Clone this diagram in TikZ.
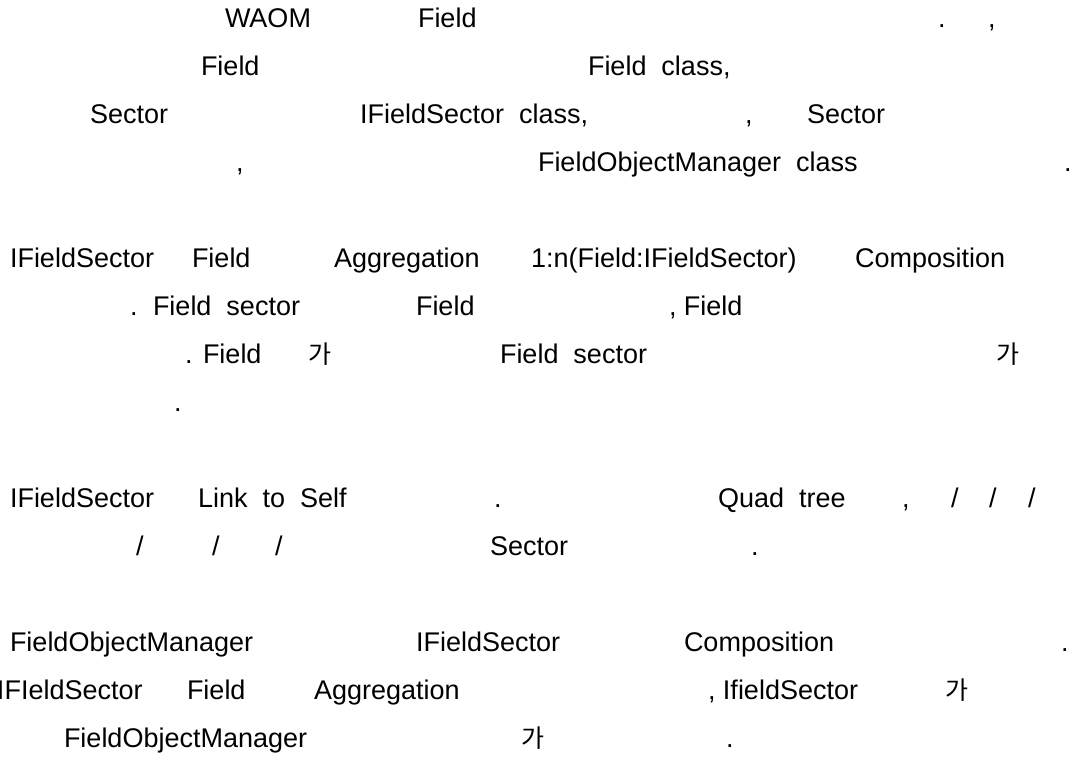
\documentclass[tikz,border=0pt]{standalone}
\usepackage{fontspec}
\setmainfont{Liberation Sans}
\newfontfamily\krfont{Noto Sans CJK KR}
\begin{document}
\begin{tikzpicture}[x=1pt,y=1pt,
  txt/.style={anchor=base west, inner sep=0pt, outer sep=0pt,
    font=\fontsize{27}{32}\selectfont, text=black},
  kr/.style={txt, font=\fontsize{25}{32}\selectfont\krfont}]
% page frame
\fill[white] (0,0) rectangle (1072,-757);
\useasboundingbox (0,0) rectangle (1072,-757);
% paragraph 1
\node[txt] (a1) at (225,-27.3) {WAOM};
\node[txt] (a2) at (418,-27.3) {Field};
\node[txt] (a3) at (938,-27.3) {.};
\node[txt] (a4) at (988,-27.3) {,};
\node[txt] (a5) at (201,-75.3) {Field};
\node[txt] (a6) at (588,-75.3) {Field\ \ class,};
\node[txt] (a7) at (90,-123.3) {Sector};
\node[txt] (a8) at (360,-123.3) {IFieldSector\ \ class,};
\node[txt] (a9) at (745,-123.3) {,};
\node[txt] (a10) at (807,-123.3) {Sector};
\node[txt] (a11) at (236,-171.3) {,};
\node[txt] (a12) at (538,-171.3) {FieldObjectManager\ \ class};
\node[txt] (a13) at (1064,-171.3) {.};
% paragraph 2
\node[txt] (b1) at (10,-267.3) {IFieldSector};
\node[txt] (b2) at (192,-267.3) {Field};
\node[txt] (b3) at (334,-267.3) {Aggregation};
\node[txt] (b4) at (531,-267.3) {1:n(Field:IFieldSector)};
\node[txt] (b5) at (855,-267.3) {Composition};
\node[txt] (b6) at (130,-315.3) {.};
\node[txt] (b7) at (153,-315.3) {Field\ \ sector};
\node[txt] (b8) at (416,-315.3) {Field};
\node[txt] (b9) at (669,-315.3) {,\ Field};
\node[txt] (b10) at (185,-363.3) {.};
\node[txt] (b11) at (203,-363.3) {Field};
\node[kr] (b12) at (308,-363.3) {가};
\node[txt] (b13) at (500,-363.3) {Field\ \ sector};
\node[kr] (b14) at (996,-363.3) {가};
\node[txt] (b15) at (174,-411.3) {.};
% paragraph 3
\node[txt] (c1) at (10,-507.3) {IFieldSector};
\node[txt] (c2) at (198,-507.3) {Link\ \ to\ \ Self};
\node[txt] (c3) at (494,-507.3) {.};
\node[txt] (c4) at (718,-507.3) {Quad\ \ tree};
\node[txt] (c5) at (902,-507.3) {,};
\node[txt] (c6) at (951,-507.3) {/};
\node[txt] (c7) at (989,-507.3) {/};
\node[txt] (c8) at (1028,-507.3) {/};
\node[txt] (c9) at (136,-555.3) {/};
\node[txt] (c10) at (212,-555.3) {/};
\node[txt] (c11) at (275,-555.3) {/};
\node[txt] (c12) at (490,-555.3) {Sector};
\node[txt] (c13) at (751,-555.3) {.};
% paragraph 4
\node[txt] (d1) at (10,-651.3) {FieldObjectManager};
\node[txt] (d2) at (416,-651.3) {IFieldSector};
\node[txt] (d3) at (684,-651.3) {Composition};
\node[txt] (d4) at (1061,-651.3) {.};
\node[txt] (d5) at (-3,-699.3) {IFIeldSector};
\node[txt] (d6) at (187,-699.3) {Field};
\node[txt] (d7) at (314,-699.3) {Aggregation};
\node[txt] (d8) at (708,-699.3) {,\ IfieldSector};
\node[kr] (d9) at (945,-699.3) {가};
\node[txt] (d10) at (64,-747.3) {FieldObjectManager};
\node[kr] (d11) at (521,-747.3) {가};
\node[txt] (d12) at (726,-747.3) {.};
\end{tikzpicture}
\end{document}
